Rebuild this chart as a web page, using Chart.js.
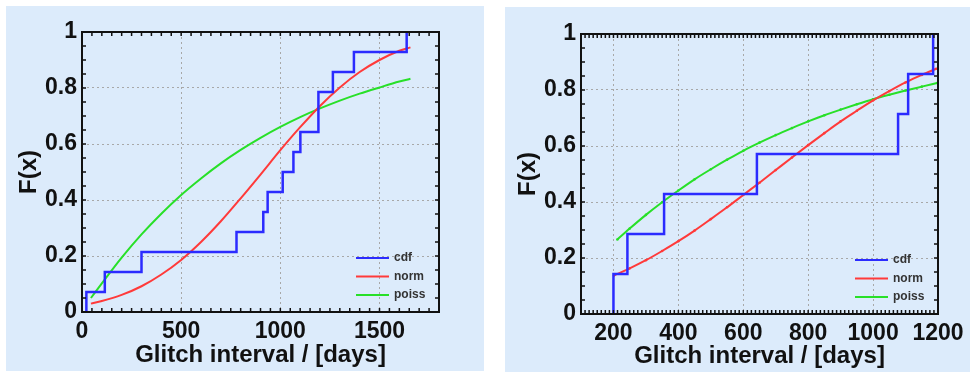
<!DOCTYPE html>
<html>
<head>
<meta charset="utf-8">
<script src="https://cdn.jsdelivr.net/npm/chart.js@4/dist/chart.umd.min.js"></script>
<style>
  body { margin: 0; background: #fff; width: 973px; height: 374px; position: relative; overflow: hidden; }
  .panel { position: absolute; background: #dcebfb; }
  #p1 { left: 6px; top: 6px; width: 478px; height: 365px; }
  #p2 { left: 505px; top: 7px; width: 465px; height: 365px; }
</style>
</head>
<body>
<div class="panel" id="p1"><canvas id="c1" width="478" height="365"></canvas></div>
<div class="panel" id="p2"><canvas id="c2" width="465" height="365"></canvas></div>
<script>
// left panel data
const leftTicksX = [0, 500, 1000, 1500];
const ticksY = [0, 0.2, 0.4, 0.6, 0.8, 1];
const leftCdfX = [22, 22, 115, 300, 779, 914, 936, 1012, 1066, 1101, 1192, 1265, 1371, 1637];
const leftCdfY = [0, 0.071, 0.143, 0.214, 0.286, 0.357, 0.429, 0.5, 0.571, 0.643, 0.786, 0.857, 0.929, 1];
const leftCurveX = [45, 100, 200, 300, 400, 500, 600, 700, 800, 900, 1000, 1100, 1200, 1300, 1400, 1500, 1600, 1656];
const leftNormY = [0.030, 0.039, 0.061, 0.092, 0.134, 0.186, 0.250, 0.324, 0.406, 0.491, 0.578, 0.660, 0.736, 0.802, 0.857, 0.900, 0.933, 0.945];
const leftPoissY = [0.050, 0.102, 0.194, 0.277, 0.351, 0.418, 0.477, 0.531, 0.579, 0.622, 0.661, 0.696, 0.727, 0.755, 0.780, 0.802, 0.823, 0.833];

// right panel data
const rightTicksX = [200, 400, 600, 800, 1000, 1200];
const rightCdfX = [200, 200, 243, 356, 642, 1077, 1108, 1185];
const rightCdfY = [0, 0.143, 0.286, 0.429, 0.571, 0.714, 0.857, 1];
const rightNormX = [202, 250, 300, 350, 400, 450, 500, 550, 600, 650, 700, 750, 800, 850, 900, 950, 1000, 1050, 1100, 1150, 1195];
const rightNormY = [0.138, 0.163, 0.192, 0.225, 0.260, 0.298, 0.339, 0.381, 0.425, 0.469, 0.514, 0.559, 0.603, 0.646, 0.688, 0.726, 0.763, 0.796, 0.827, 0.854, 0.876];
const rightPoissX = [212, 250, 300, 350, 400, 450, 500, 550, 600, 650, 700, 750, 800, 850, 900, 950, 1000, 1050, 1100, 1150, 1197];
const rightPoissY = [0.266, 0.305, 0.354, 0.399, 0.441, 0.481, 0.517, 0.551, 0.583, 0.612, 0.639, 0.664, 0.688, 0.710, 0.730, 0.749, 0.767, 0.783, 0.798, 0.812, 0.825];

const BLUE = '#2b2bff', RED = '#ff3a3a', GREEN = '#28e028';
const FONT = 'Liberation Sans, Arial, sans-serif';

function pts(xs, ys) { return xs.map((x, i) => ({ x: x, y: ys[i] })); }

// frame with inward ticks plus the small legend in the lower right corner
const framePlugin = {
  id: 'frame',
  afterDraw(chart, args, o) {
    const { ctx, chartArea: a } = chart;
    const x = chart.scales.x, y = chart.scales.y;
    ctx.save();
    ctx.strokeStyle = '#111';
    ctx.lineWidth = 1.5;
    ctx.beginPath();
    for (let v = x.min; v <= x.max + 0.001; v += o.xMinor) {
      const px = x.getPixelForValue(v);
      ctx.moveTo(px, a.bottom); ctx.lineTo(px, a.bottom - 4);
      ctx.moveTo(px, a.top); ctx.lineTo(px, a.top + 4);
    }
    for (let v = 0; v <= 1.0001; v += 0.05) {
      const py = y.getPixelForValue(v);
      ctx.moveTo(a.left, py); ctx.lineTo(a.left + 4, py);
      ctx.moveTo(a.right, py); ctx.lineTo(a.right - 4, py);
    }
    ctx.stroke();
    ctx.lineWidth = 2;
    ctx.strokeRect(a.left, a.top, a.right - a.left, a.bottom - a.top);

    // legend
    ctx.font = 'bold 12px ' + FONT;
    ctx.textBaseline = 'middle';
    ctx.fillStyle = '#333';
    chart.data.datasets.forEach((ds, i) => {
      const ly = a.bottom - o.legendBottom + i * o.legendGap;
      ctx.strokeStyle = ds.borderColor;
      ctx.lineWidth = 2;
      ctx.beginPath();
      ctx.moveTo(a.right - 83, ly); ctx.lineTo(a.right - 50, ly);
      ctx.stroke();
      ctx.fillText(ds.label, a.right - 45, ly);
    });
    ctx.restore();
  }
};

function makeChart(id, cfg) {
  return new Chart(document.getElementById(id), {
    type: 'line',
    data: {
      datasets: [
        { label: 'cdf', data: pts(cfg.cdfX, cfg.cdfY), borderColor: BLUE, borderWidth: 2.5, stepped: true, pointRadius: 0 },
        { label: 'norm', data: pts(cfg.normX, cfg.normY), borderColor: RED, backgroundColor: RED, borderWidth: 2,
          cubicInterpolationMode: 'monotone', pointRadius: cfg.markers, pointBorderWidth: 0 },
        { label: 'poiss', data: pts(cfg.poissX, cfg.poissY), borderColor: GREEN, backgroundColor: GREEN, borderWidth: 2,
          cubicInterpolationMode: 'monotone', pointRadius: cfg.markers, pointBorderWidth: 0 }
      ]
    },
    options: {
      responsive: false,
      animation: false,
      layout: { padding: { top: cfg.padTop, right: cfg.padRight, left: 0, bottom: 0 } },
      plugins: {
        legend: { display: false },
        tooltip: { enabled: false },
        frame: { xMinor: cfg.xMinor, legendBottom: 54, legendGap: 18.5 }
      },
      scales: {
        x: {
          type: 'linear',
          min: cfg.xMin,
          max: cfg.xMax,
          afterBuildTicks: s => { s.ticks = cfg.ticksX.map(v => ({ value: v })); },
          afterFit: s => { s.height = cfg.xHeight; },
          grid: { color: '#a8a8a8', lineWidth: 1, drawTicks: false },
          border: { display: false, dash: [2, 3] },
          ticks: { color: '#111', font: { family: FONT, size: 23, weight: 'bold' }, padding: 6, maxRotation: 0,
                   callback: v => String(v) },
          title: { display: true, text: 'Glitch interval / [days]', color: '#111',
                   font: { family: FONT, size: 24, weight: 'bold' }, padding: { top: 0, bottom: 1 } }
        },
        y: {
          type: 'linear',
          min: 0,
          max: 1,
          afterBuildTicks: s => { s.ticks = ticksY.map(v => ({ value: v })); },
          afterFit: s => { s.width = cfg.yWidth; },
          grid: { color: '#a8a8a8', lineWidth: 1, drawTicks: false },
          border: { display: false, dash: [2, 3] },
          ticks: { color: '#111', font: { family: FONT, size: 23, weight: 'bold' }, padding: 5,
                   callback: v => String(v) },
          title: { display: true, text: 'F(x)', color: '#111',
                   font: { family: FONT, size: 24, weight: 'bold' }, padding: { top: 9, bottom: 0 } }
        }
      }
    },
    plugins: [framePlugin]
  });
}

makeChart('c1', {
  cdfX: leftCdfX, cdfY: leftCdfY,
  normX: leftCurveX, normY: leftNormY,
  poissX: leftCurveX, poissY: leftPoissY,
  ticksX: leftTicksX, xMin: 0, xMax: 1800, xMinor: 50,
  markers: 0, padTop: 26, padRight: 45, xHeight: 59, yWidth: 76
});

makeChart('c2', {
  cdfX: rightCdfX, cdfY: rightCdfY,
  normX: rightNormX, normY: rightNormY,
  poissX: rightPoissX, poissY: rightPoissY,
  ticksX: rightTicksX, xMin: 100, xMax: 1200, xMinor: 12.5,
  markers: 1.3, padTop: 27, padRight: 32, xHeight: 58, yWidth: 76
});
</script>
</body>
</html>
